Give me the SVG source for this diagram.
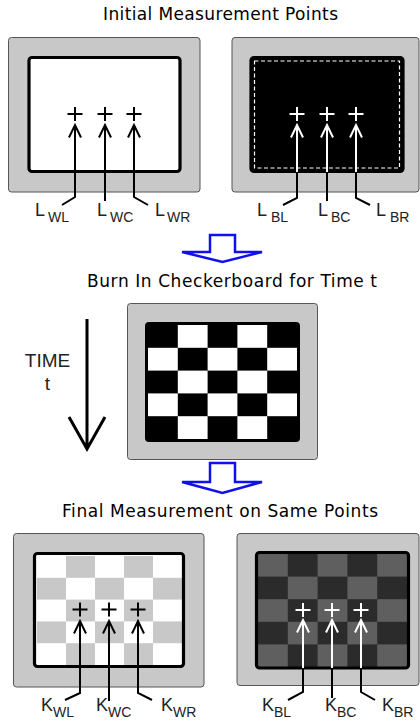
<svg xmlns="http://www.w3.org/2000/svg" width="420" height="722" viewBox="0 0 420 722">
<style>
.title{font-family:"DejaVu Sans","Liberation Sans",sans-serif;font-size:17px;fill:#000}
.lbl{font-family:"Liberation Sans",Arial,sans-serif;font-size:18px;fill:#222}
.sub{font-family:"Liberation Sans",Arial,sans-serif;font-size:14px;fill:#222}
.frame{fill:#c8c8c8;stroke:#555;stroke-width:1}
.screen{stroke:#000;stroke-width:3.2}
.crossK{stroke:#000;stroke-width:2;fill:none}
.crossW{stroke:#fff;stroke-width:2;fill:none}
.ptrK{stroke:#000;stroke-width:2;fill:none}
.ptrW{stroke:#fff;stroke-width:2;fill:none}
.blue{fill:#fff;stroke:#1010ee;stroke-width:2.5;stroke-linejoin:miter}
.wcell{fill:#fff}
.lgcell{fill:#c8c8c8}
.mgcell{fill:#5f5f5f}
</style>
<defs>
<marker id="chevK" markerUnits="userSpaceOnUse" markerWidth="30" markerHeight="30" viewBox="-15 -15 30 30" refX="0" refY="0" orient="auto" overflow="visible">
<path d="M-12.5,-6 L0,0 L-12.5,6" fill="none" stroke="#000" stroke-width="2"/>
</marker>
<marker id="chevW" markerUnits="userSpaceOnUse" markerWidth="30" markerHeight="30" viewBox="-15 -15 30 30" refX="0" refY="0" orient="auto" overflow="visible">
<path d="M-12.5,-6 L0,0 L-12.5,6" fill="none" stroke="#fff" stroke-width="2"/>
</marker>
</defs>
<rect width="420" height="722" fill="#fff"/>

<text class="title" x="103" y="20" textLength="235" lengthAdjust="spacing">Initial Measurement Points</text>
<text class="title" x="87" y="287" textLength="290" lengthAdjust="spacing">Burn In Checkerboard for Time t</text>
<text class="title" x="62" y="517" textLength="316" lengthAdjust="spacing">Final Measurement on Same Points</text>

<g id="monitor-initial-white">
<rect class="frame" x="8.5" y="37.5" width="191.5" height="154.5" rx="3"/>
<rect class="screen" x="29" y="57.5" width="151" height="114" rx="3" fill="#fff"/>
<path class="crossK" d="M67.5,114 H82.5 M75,107 V121 M97.5,114 H112.5 M105,107 V121 M126.5,114 H141.5 M134,107 V121"/>
</g>

<g id="monitor-initial-black">
<rect class="frame" x="232" y="37.5" width="187" height="154.5" rx="3"/>
<rect class="screen" x="251" y="57.5" width="152" height="114" rx="3" fill="#000"/>
<rect x="254.5" y="61" width="145" height="107" fill="none" stroke="#fff" stroke-width="1.2" stroke-dasharray="4 2.5"/>
<path class="crossW" d="M289.5,114 H304.5 M297,107 V121 M319.5,114 H334.5 M327,107 V121 M348.5,114 H363.5 M356,107 V121"/>
</g>

<g id="arrow-down-1">
<polygon class="blue" points="210,235 235,235 235,252 262,252 222.5,262 182,252 210,252"/>
</g>

<g id="time-arrow">
<text class="lbl" x="47.5" y="367" text-anchor="middle" style="font-size:19px">TIME</text>
<text class="lbl" x="47.5" y="390" text-anchor="middle" style="font-size:19px">t</text>
<path d="M87,319 V447 M69,417 L87,449 L105,417" fill="none" stroke="#000" stroke-width="3"/>
</g>

<g id="monitor-checkerboard">
<rect class="frame" x="127.5" y="303.5" width="190" height="156" rx="3"/>
<rect x="145" y="322" width="155" height="120" rx="4" fill="#000"/>
<g class="wcell">
<rect x="177.8" y="325" width="29.8" height="22.8"/>
<rect x="237.4" y="325" width="29.8" height="22.8"/>
<rect x="148" y="347.8" width="29.8" height="22.8"/>
<rect x="207.6" y="347.8" width="29.8" height="22.8"/>
<rect x="267.2" y="347.8" width="29.8" height="22.8"/>
<rect x="177.8" y="370.6" width="29.8" height="22.8"/>
<rect x="237.4" y="370.6" width="29.8" height="22.8"/>
<rect x="148" y="393.4" width="29.8" height="22.8"/>
<rect x="207.6" y="393.4" width="29.8" height="22.8"/>
<rect x="267.2" y="393.4" width="29.8" height="22.8"/>
<rect x="177.8" y="416.2" width="29.8" height="22.8"/>
<rect x="237.4" y="416.2" width="29.8" height="22.8"/>
</g>
</g>

<g id="arrow-down-2">
<polygon class="blue" points="210,463 235,463 235,482 262,482 222.5,493 182,482 210,482"/>
</g>

<g id="monitor-final-white">
<rect class="frame" x="13.5" y="533.5" width="190.5" height="153.5" rx="3"/>
<rect x="34.5" y="553.5" width="149" height="113" fill="#fff"/>
<g class="lgcell">
<rect x="66" y="556" width="29" height="21.8"/>
<rect x="124" y="556" width="29" height="21.8"/>
<rect x="37" y="577.8" width="29" height="21.8"/>
<rect x="95" y="577.8" width="29" height="21.8"/>
<rect x="153" y="577.8" width="29" height="21.8"/>
<rect x="66" y="599.6" width="29" height="21.8"/>
<rect x="124" y="599.6" width="29" height="21.8"/>
<rect x="37" y="621.4" width="29" height="21.8"/>
<rect x="95" y="621.4" width="29" height="21.8"/>
<rect x="153" y="621.4" width="29" height="21.8"/>
<rect x="66" y="643.2" width="29" height="21.8"/>
<rect x="124" y="643.2" width="29" height="21.8"/>
</g>
<rect class="screen" x="34.5" y="553.5" width="149" height="113" rx="3" fill="none"/>
<path class="crossK" d="M72.5,609.5 H87.5 M80,602.5 V616.5 M101.5,609.5 H116.5 M109,602.5 V616.5 M130.5,609.5 H145.5 M138,602.5 V616.5"/>
</g>

<g id="monitor-final-black">
<rect class="frame" x="237" y="533.5" width="182" height="152" rx="3"/>
<rect x="256.5" y="552.5" width="152" height="115.5" fill="#2b2b2b"/>
<g class="mgcell">
<rect x="258" y="554" width="29.8" height="22.6"/>
<rect x="317.6" y="554" width="29.8" height="22.6"/>
<rect x="377.2" y="554" width="29.8" height="22.6"/>
<rect x="287.8" y="576.6" width="29.8" height="22.6"/>
<rect x="347.4" y="576.6" width="29.8" height="22.6"/>
<rect x="258" y="599.2" width="29.8" height="22.6"/>
<rect x="317.6" y="599.2" width="29.8" height="22.6"/>
<rect x="377.2" y="599.2" width="29.8" height="22.6"/>
<rect x="287.8" y="621.8" width="29.8" height="22.6"/>
<rect x="347.4" y="621.8" width="29.8" height="22.6"/>
<rect x="258" y="644.4" width="29.8" height="22.6"/>
<rect x="317.6" y="644.4" width="29.8" height="22.6"/>
<rect x="377.2" y="644.4" width="29.8" height="22.6"/>
</g>
<rect class="screen" x="256.5" y="552.5" width="152" height="115.5" rx="3" fill="none"/>
<path class="crossW" d="M295.5,610 H310.5 M303,603 V617 M324.5,610 H339.5 M332,603 V617 M353.5,610 H368.5 M361,603 V617"/>
</g>

<g id="connectors">
<path class="ptrK" d="M62,205 L75,197 V125" marker-end="url(#chevK)"/>
<path class="ptrK" d="M105,201 V125" marker-end="url(#chevK)"/>
<path class="ptrK" d="M148,205 L134,197 V125" marker-end="url(#chevK)"/>

<path class="ptrK" d="M283,205 L297,198 V172"/>
<path class="ptrW" d="M297,172 V125" marker-end="url(#chevW)"/>
<path class="ptrK" d="M327,201 V172"/>
<path class="ptrW" d="M327,172 V125" marker-end="url(#chevW)"/>
<path class="ptrK" d="M370,205 L356,198 V172"/>
<path class="ptrW" d="M356,172 V125" marker-end="url(#chevW)"/>

<path class="ptrK" d="M65,700 L80,693 V621" marker-end="url(#chevK)"/>
<path class="ptrK" d="M109,701 V621" marker-end="url(#chevK)"/>
<path class="ptrK" d="M152,700 L138,693 V621" marker-end="url(#chevK)"/>

<path class="ptrK" d="M288,700 L303,692 V668"/>
<path class="ptrW" d="M303,668 V620" marker-end="url(#chevW)"/>
<path class="ptrK" d="M332,698 V668"/>
<path class="ptrW" d="M332,668 V620" marker-end="url(#chevW)"/>
<path class="ptrK" d="M375,700 L361,692 V668"/>
<path class="ptrW" d="M361,668 V620" marker-end="url(#chevW)"/>
</g>

<g id="labels-initial">
<text class="lbl" x="35" y="215.5">L</text><text class="sub" x="48" y="222">WL</text>
<text class="lbl" x="97" y="215.5">L</text><text class="sub" x="110" y="222">WC</text>
<text class="lbl" x="155" y="215.5">L</text><text class="sub" x="167" y="222">WR</text>
<text class="lbl" x="257" y="215.5">L</text><text class="sub" x="271" y="222">BL</text>
<text class="lbl" x="318" y="215.5">L</text><text class="sub" x="331" y="222">BC</text>
<text class="lbl" x="376" y="215.5">L</text><text class="sub" x="390" y="222">BR</text>
</g>

<g id="labels-final">
<text class="lbl" x="41" y="711">K</text><text class="sub" x="53" y="716.5">WL</text>
<text class="lbl" x="96" y="711">K</text><text class="sub" x="108" y="716.5">WC</text>
<text class="lbl" x="161" y="711">K</text><text class="sub" x="173" y="716.5">WR</text>
<text class="lbl" x="262" y="711">K</text><text class="sub" x="274" y="716.5">BL</text>
<text class="lbl" x="325" y="711">K</text><text class="sub" x="337" y="716.5">BC</text>
<text class="lbl" x="382" y="711">K</text><text class="sub" x="394" y="716.5">BR</text>
</g>
</svg>
